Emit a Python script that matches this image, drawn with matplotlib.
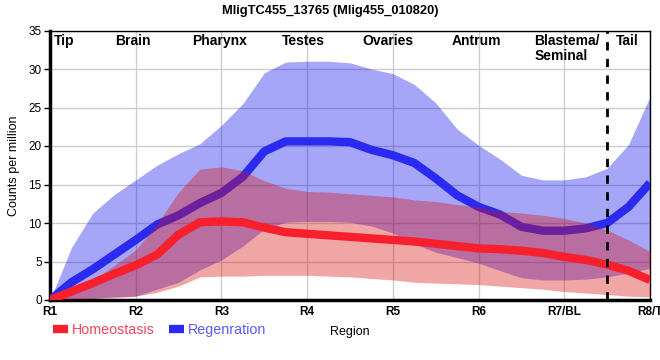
import numpy as np
import matplotlib
matplotlib.use("Agg")
import matplotlib.pyplot as plt
from matplotlib.lines import Line2D

plt.rcParams['font.family'] = ['Liberation Sans', 'DejaVu Sans']

# positions along the body, read every quarter region
pos = np.arange(0, 7.01, 0.25)

tick_labels = ["R1", "R2", "R3", "R4", "R5", "R6", "R7/BL", "R8/T"]

# Regeneration: mean and band
reg_mean = [0, 2.3, 4.0, 5.9, 7.8, 9.8, 11.0, 12.6, 13.9, 16.0, 19.3, 20.6, 20.6, 20.6,
            20.5, 19.5, 18.8, 17.8, 15.8, 13.6, 12.1, 11.1, 9.5, 9.0, 9.0, 9.3, 10.0, 12.1, 15.2]
reg_hi = [0, 6.8, 11.3, 13.7, 15.6, 17.5, 19.0, 20.3, 22.7, 25.5, 29.5, 30.9, 31.0, 31.0,
          30.8, 30.0, 29.4, 28.0, 25.6, 22.2, 20.1, 18.3, 16.2, 15.6, 15.6, 16.0, 17.1, 20.2, 26.4]
reg_lo = [0, 0.1, 0.2, 0.4, 0.5, 1.4, 2.3, 3.9, 5.2, 7.0, 9.2, 10.1, 10.2, 10.2,
          10.1, 9.6, 8.7, 7.3, 6.2, 5.5, 4.8, 3.8, 2.9, 2.6, 2.6, 2.7, 3.0, 3.5, 4.1]

# Homeostasis: mean and band
hom_mean = [0, 1.1, 2.2, 3.4, 4.5, 5.9, 8.5, 10.1, 10.2, 10.1, 9.4, 8.8, 8.6, 8.4,
            8.2, 8.0, 7.8, 7.6, 7.3, 7.0, 6.7, 6.6, 6.4, 6.1, 5.6, 5.2, 4.6, 3.8, 2.6]
hom_hi = [0, 1.2, 2.5, 4.5, 6.5, 9.9, 14.0, 17.0, 17.3, 16.8, 15.5, 14.5, 14.1, 14.0,
          13.8, 13.6, 13.4, 13.0, 12.8, 12.4, 12.1, 11.5, 11.3, 11.0, 10.6, 10.0, 9.1, 7.8, 6.3]
hom_lo = [0, 0.1, 0.2, 0.3, 0.5, 1.0, 1.8, 3.0, 3.1, 3.1, 3.2, 3.2, 3.2, 3.1,
          3.0, 2.8, 2.6, 2.3, 2.2, 2.1, 2.0, 1.8, 1.6, 1.4, 1.1, 0.9, 0.7, 0.5, 0.4]

# anatomical region names along the top
region_names = ["Tip", "Brain", "Pharynx", "Testes", "Ovaries", "Antrum", "Blastema/\nSeminal", "Tail"]
region_pos = [0.05, 0.97, 1.98, 2.96, 3.94, 4.98, 5.65, 6.74]
region_ha = ["left", "center", "center", "center", "center", "center", "left", "center"]

fig = plt.figure(figsize=(6.6, 3.6), dpi=100)
ax = fig.add_axes([50 / 660, 60 / 360, 600 / 660, 269.5 / 360])

blue_band = (0, 0, 0.94)
red_band = (0.86, 0.06, 0.06)
blue_line = "#2a2af0"
red_line = "#f8202c"

ax.fill_between(pos, reg_lo, reg_hi, color=blue_band, alpha=0.35, lw=0, zorder=2)
ax.plot(pos, reg_mean, color=blue_line, lw=6, solid_capstyle="butt",
        solid_joinstyle="round", zorder=3)
ax.fill_between(pos, hom_lo, hom_hi, color=red_band, alpha=0.37, lw=0, zorder=4)
ax.plot(pos, hom_mean, color=red_line, lw=6, solid_capstyle="butt",
        solid_joinstyle="round", zorder=5)

ax.axvline(6.5, color="black", lw=2, ls=(0, (3, 3)), zorder=6)

for name, x, ha in zip(region_names, region_pos, region_ha):
    ax.text(x, 34.5, name, ha=ha, va="top", fontsize=10, fontweight="bold",
            linespacing=1.05, zorder=7)

ax.set_xlim(0, 7)
ax.set_ylim(0, 35)
ax.set_xticks(range(8))
ax.set_xticklabels(tick_labels, fontsize=8.5, fontweight="bold")
ax.set_yticks(range(0, 36, 5))
ax.tick_params(axis="x", length=0, pad=4)
ax.tick_params(axis="y", length=4, width=1, labelsize=8.5, pad=2)
ax.grid(True, color="#cccccc", lw=1, zorder=0)
ax.set_axisbelow(True)

for side in ["top", "right"]:
    ax.spines[side].set_linewidth(1)
for side in ["left", "bottom"]:
    ax.spines[side].set_linewidth(2.5)

ax.set_xlabel("Region", fontsize=9, labelpad=6)
ax.set_ylabel("Counts per million", fontsize=9, labelpad=6)

fig.suptitle("MligTC455_13765 (Mlig455_010820)", fontsize=9.3, fontweight="bold", y=0.985)

handles = [Line2D([], [], color=red_line, lw=6, solid_capstyle="butt"),
           Line2D([], [], color=blue_line, lw=6, solid_capstyle="butt")]
leg = fig.legend(handles, ["Homeostasis", "Regenration"], loc="lower left",
                 bbox_to_anchor=(0.072, 0.047), ncol=2, frameon=False, fontsize=10.3,
                 handlelength=1.05, handletextpad=0.25, columnspacing=1.0, borderaxespad=0)
for txt, c in zip(leg.get_texts(), ["#f5465f", "#5a5aff"]):
    txt.set_color(c)

fig.savefig("out.png", dpi=100)
